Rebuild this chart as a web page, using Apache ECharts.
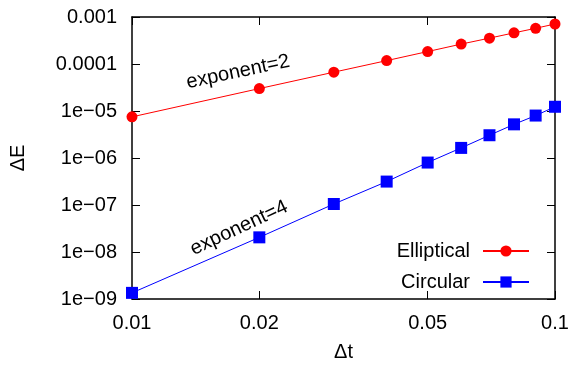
<!DOCTYPE html>
<html>
<head>
<meta charset="utf-8">
<script src="https://cdn.jsdelivr.net/npm/echarts@6/dist/echarts.min.js"></script>
<style>
  html, body { margin: 0; padding: 0; background: #fff; }
  #chart { width: 573px; height: 367px; }
</style>
</head>
<body>
<div id="chart"></div>
<script>
// Time steps and energy errors for the two orbit integrations
const dt = [0.01, 0.02, 0.03, 0.04, 0.05, 0.06, 0.07, 0.08, 0.09, 0.1];
const elliptical = [7.5e-6, 3.0e-5, 6.7e-5, 1.18e-4, 1.84e-4, 2.65e-4, 3.55e-4, 4.6e-4, 5.75e-4, 7.1e-4];
const circular = [1.35e-9, 2.05e-8, 1.05e-7, 3.15e-7, 8.0e-7, 1.64e-6, 3.05e-6, 5.2e-6, 8.0e-6, 1.23e-5];

const xTicks = [0.01, 0.02, 0.05, 0.1];
const yTicks = [1e-9, 1e-8, 1e-7, 1e-6, 1e-5, 1e-4, 1e-3];

const FONT = '"Liberation Sans", Arial, Helvetica, sans-serif';
const AXIS_COLOR = '#000';

function fmtX(v) {
  return String(+(+v).toPrecision(3));
}
function fmtY(v) {
  const e = Math.round(Math.log10(v));
  if (e >= -4) return (Math.pow(10, e)).toFixed(-e);
  const n = -e;
  return '1e\u2212' + (n < 10 ? '0' + n : String(n));
}

function pairs(xs, ys) {
  return xs.map((x, i) => [x, ys[i]]);
}

const axisLine = { show: true, lineStyle: { color: AXIS_COLOR, width: 1.5 } };
const tickStyle = { color: AXIS_COLOR, width: 1 };

const chart = echarts.init(document.getElementById('chart'), null, { renderer: 'canvas' });

chart.setOption({
  animation: false,
  backgroundColor: '#fff',
  textStyle: { fontFamily: FONT },
  grid: { left: 129, right: 18, top: 17, bottom: 63, containLabel: false },
  xAxis: [
    {
      type: 'log', logBase: 10, min: 0.01, max: 0.1,
      position: 'bottom',
      name: '\u0394t', nameLocation: 'middle', nameGap: 43,
      nameTextStyle: { fontSize: 20, color: '#000', fontFamily: FONT },
      axisLine: axisLine,
      axisTick: { show: true, inside: true, length: 8, lineStyle: tickStyle, customValues: xTicks },
      axisLabel: { show: true, fontSize: 20, color: '#000', margin: 14, fontFamily: FONT,
                   customValues: xTicks, formatter: fmtX },
      splitLine: { show: false },
      minorTick: { show: false }
    },
    {
      type: 'log', logBase: 10, min: 0.01, max: 0.1,
      position: 'top',
      axisLine: axisLine,
      axisTick: { show: true, inside: true, length: 8, lineStyle: tickStyle, customValues: xTicks },
      axisLabel: { show: false },
      splitLine: { show: false }
    }
  ],
  yAxis: [
    {
      type: 'log', logBase: 10, min: 1e-9, max: 1e-3,
      position: 'left',
      name: '\u0394E', nameLocation: 'middle', nameGap: 104, nameRotate: 90,
      nameTextStyle: { fontSize: 20, color: '#000', fontFamily: FONT },
      axisLine: axisLine,
      axisTick: { show: true, inside: true, length: 8, lineStyle: tickStyle, customValues: yTicks },
      axisLabel: { show: true, fontSize: 20, color: '#000', margin: 15, fontFamily: FONT,
                   customValues: yTicks, formatter: fmtY },
      splitLine: { show: false },
      minorTick: { show: false }
    },
    {
      type: 'log', logBase: 10, min: 1e-9, max: 1e-3,
      position: 'right',
      axisLine: axisLine,
      axisTick: { show: true, inside: true, length: 8, lineStyle: tickStyle, customValues: yTicks },
      axisLabel: { show: false },
      splitLine: { show: false }
    }
  ],
  legend: {
    orient: 'vertical',
    right: 38, top: 236,
    align: 'right',
    itemWidth: 46, itemHeight: 14, itemGap: 11,
    textStyle: { fontSize: 20, color: '#000', fontFamily: FONT, padding: [0, 8, 0, 0] },
    data: ['Elliptical', 'Circular']
  },
  series: [
    {
      name: 'Elliptical', type: 'line',
      xAxisIndex: 0, yAxisIndex: 0,
      data: pairs(dt, elliptical),
      symbol: 'circle', symbolSize: 11,
      lineStyle: { color: '#ff0000', width: 1 },
      itemStyle: { color: '#ff0000' },
      clip: false, z: 3
    },
    {
      name: 'Circular', type: 'line',
      xAxisIndex: 0, yAxisIndex: 0,
      data: pairs(dt, circular),
      symbol: 'rect', symbolSize: 12,
      lineStyle: { color: '#0000ff', width: 1 },
      itemStyle: { color: '#0000ff' },
      clip: false, z: 3
    }
  ],
  graphic: [
    {
      type: 'text', x: 238, y: 72, rotation: 12 * Math.PI / 180,
      style: { text: 'exponent=2', fontSize: 20, fontFamily: FONT, fill: '#000',
               align: 'center', verticalAlign: 'middle' }
    },
    {
      type: 'text', x: 239, y: 228, rotation: 25 * Math.PI / 180,
      style: { text: 'exponent=4', fontSize: 20, fontFamily: FONT, fill: '#000',
               align: 'center', verticalAlign: 'middle' }
    }
  ]
});
</script>
</body>
</html>
